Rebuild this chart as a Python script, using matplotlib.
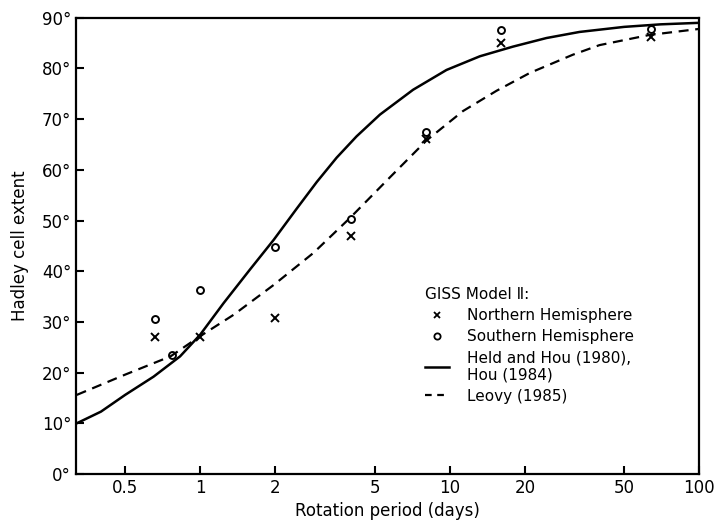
import matplotlib
matplotlib.use('Agg')
import matplotlib.pyplot as plt
from matplotlib.lines import Line2D

# GISS Model II points (rotation period in days, Hadley cell edge in degrees)
period_nh = [0.66, 1, 2, 4, 8, 16, 64]
lat_nh = [27.0, 27.1, 30.7, 47.0, 66.0, 85.0, 86.3]

period_sh = [0.66, 0.77, 1, 2, 4, 8, 16, 64]
lat_sh = [30.6, 23.4, 36.3, 44.7, 50.3, 67.4, 87.6, 87.7]

# Held and Hou (1980), Hou (1984)
period_hh = [0.32, 0.4, 0.5, 0.65, 0.83, 1.0, 1.24, 1.58, 1.97, 2.44, 2.93,
             3.52, 4.23, 5.25, 7.13, 9.7, 13.2, 17.9, 24.4, 33.1, 50, 70, 100]
lat_hh = [10.0, 12.3, 15.6, 19.2, 23.2, 27.5, 33.7, 40.3, 46.2, 52.4, 57.6,
          62.4, 66.6, 70.9, 75.8, 79.7, 82.4, 84.3, 86.0, 87.2, 88.2, 88.7, 89.0]

# Leovy (1985)
period_lv = [0.32, 0.5, 0.76, 1.0, 1.36, 1.97, 2.84, 3.98, 5.75, 8.07,
             11.3, 15.4, 20.9, 31.1, 39.8, 63, 100]
lat_lv = [15.6, 19.6, 23.2, 27.2, 31.4, 37.3, 43.6, 50.5, 58.5, 65.8,
          71.6, 75.6, 79.1, 82.7, 84.6, 86.6, 87.8]

xticks = [0.5, 1, 2, 5, 10, 20, 50, 100]
xticklabels = ['0.5', '1', '2', '5', '10', '20', '50', '100']
yticks = [0, 10, 20, 30, 40, 50, 60, 70, 80, 90]

plt.rcParams['font.family'] = ['DejaVu Sans']

fig = plt.figure(figsize=(7.18, 5.22), dpi=100)
ax = fig.add_axes([0.106, 0.092, 0.868, 0.874])

ax.plot(period_hh, lat_hh, '-', color='black', lw=1.8)
ax.plot(period_lv, lat_lv, '--', color='black', lw=1.6, dashes=(4.5, 3))
ax.plot(period_nh, lat_nh, 'x', color='black', ms=5.5, mew=1.4)
ax.plot(period_sh, lat_sh, 'o', color='black', ms=5, mew=1.4, mfc='none')

ax.set_xscale('log')
ax.set_xlim(0.318, 100)
ax.set_ylim(0, 90)
ax.set_xticks(xticks)
ax.set_xticklabels(xticklabels)
ax.minorticks_off()
ax.set_yticks(yticks)
ax.set_yticklabels(['%d°' % v for v in yticks])
ax.tick_params(axis='both', direction='in', length=6, width=1.5, labelsize=12,
               top=False, right=False)
for s in ax.spines.values():
    s.set_linewidth(1.6)

ax.set_xlabel('Rotation period (days)', fontsize=12, labelpad=4)
ax.set_ylabel('Hadley cell extent', fontsize=12, labelpad=9)

handles = [
    Line2D([], [], ls='none', marker='x', color='black', ms=5, mew=1.3),
    Line2D([], [], ls='none', marker='o', color='black', ms=4.5, mew=1.3, mfc='none'),
    Line2D([], [], ls='-', color='black', lw=1.8),
    Line2D([], [], ls='--', color='black', lw=1.6, dashes=(3, 2.5)),
]
labels = ['Northern Hemisphere', 'Southern Hemisphere',
          'Held and Hou (1980),\nHou (1984)', 'Leovy (1985)']
leg = ax.legend(handles, labels, title='GISS Model Ⅱ:', loc='upper left',
                bbox_to_anchor=(0.537, 0.44), frameon=False, fontsize=11,
                title_fontsize=11, handlelength=1.6, handletextpad=1.2,
                labelspacing=0.4, alignment='left')

fig.savefig('out.png', dpi=100)
